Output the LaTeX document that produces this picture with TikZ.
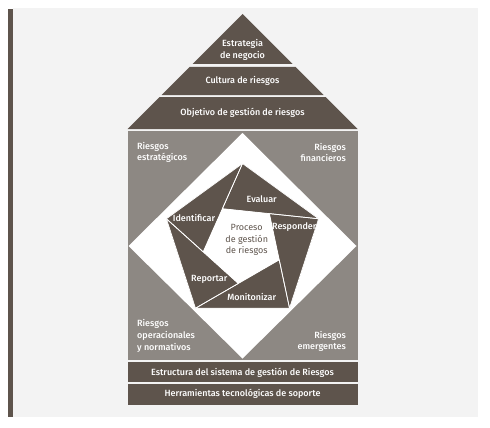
\documentclass[tikz,border=0pt]{standalone}
\usepackage{fontspec}
\setmainfont{Fira Sans}[BoldFont={Fira Sans Medium}]
\definecolor{taupe}{RGB}{94,84,76}
\definecolor{stone}{RGB}{141,136,131}
\definecolor{paper}{RGB}{243,243,243}

\begin{document}
\begin{tikzpicture}[
        x=1pt, y=-1pt,
        font=\fontsize{9}{11.7}\selectfont\bfseries,
        every node/.style = {align=center, inner sep=0pt},
        band/.style  = {fill=taupe},
        panel/.style = {fill=stone},
        lbl/.style   = {text=white},
        riskl/.style = {text=white, align=left},
        riskr/.style = {text=white, align=right},
        piece/.style = {fill=taupe, draw=white, line width=0.7pt, line join=round},
        core/.style  = {text=taupe, font=\fontsize{9}{11.7}\selectfont}
    ]

    % --- Page and side bar ---
    \useasboundingbox (0,0) rectangle (490,428);
    \fill[paper] (12.5,8) rectangle (477.7,417);
    \fill[taupe] (8,9) rectangle (12.5,417);

    % --- Roof (three layers) ---
    \fill[band] (242.5,14) -- (292.5,64) -- (192.5,64) -- cycle;
    \fill[band] (189.5,67) -- (295.5,67) -- (323.5,95) -- (161.5,95) -- cycle;
    \fill[band] (159.5,97) -- (325.5,97) -- (357.5,129) -- (127.5,129) -- cycle;

    \node[lbl] (strat) at (242.5,50)  {Estrategia\\de negocio};
    \node[lbl] (cult)  at (242.5,81)  {Cultura de riesgos};
    \node[lbl] (obj)   at (242.5,113) {Objetivo de gestión de riesgos};

    % --- Body with diamond ---
    \fill[panel] (127.5,131) rectangle (357.5,359.5);
    \fill[white] (242.5,133) -- (356.5,246) -- (242.5,358.5) -- (128.5,246) -- cycle;

    \node[riskl, anchor=west] (estr) at (137,152.5) {Riesgos\\estratégicos};
    \node[riskr, anchor=east] (fin)  at (346,152.5) {Riesgos\\financieros};
    \node[riskl, anchor=west] (oper) at (137,336)   {Riesgos\\operacionales\\y normativos};
    \node[riskr, anchor=east] (emer) at (346,341.5) {Riesgos\\emergentes};

    % --- Process pinwheel ---
    \begin{scope}[shift={(242.5,243.5)}, yscale=-1]
        \foreach \a in {90,162,234,306,378}
            \fill[taupe] (\a:80) -- (\a-72:80) -- (\a+30:40.2) -- cycle;
        \foreach \a in {90,162,234,306,378}
            \draw[piece, fill=none] (\a:80) -- (\a-72:80) -- (\a+30:40.2) -- cycle;
        \fill[white] (120:40.2) -- (48:40.2) -- (-24:40.2) -- (-96:40.2) -- (-168:40.2) -- cycle;
    \end{scope}

    \node[lbl]  (eval) at (261.7,199.3) {Evaluar};
    \node[lbl]  (iden) at (194,218.3)   {Identificar};
    \node[lbl]  (resp) at (294.3,226.7) {Responder};
    \node[lbl]  (repo) at (209.3,279.3) {Reportar};
    \node[lbl]  (moni) at (251.7,296.7) {Monitonizar};
    \node[core] (proc) at (246.7,240)   {Proceso\\de gestión\\de riesgos};

    % --- Foundation bands ---
    \fill[band] (127.5,361.5) rectangle (357.5,382);
    \fill[band] (127.5,384) rectangle (357.5,404.5);

    \node[lbl] (struc) at (242.5,372.5) {Estructura del sistema de gestión de Riesgos};
    \node[lbl] (herr)  at (242.5,394)   {Herramientas tecnológicas de soporte};

\end{tikzpicture}
\end{document}
